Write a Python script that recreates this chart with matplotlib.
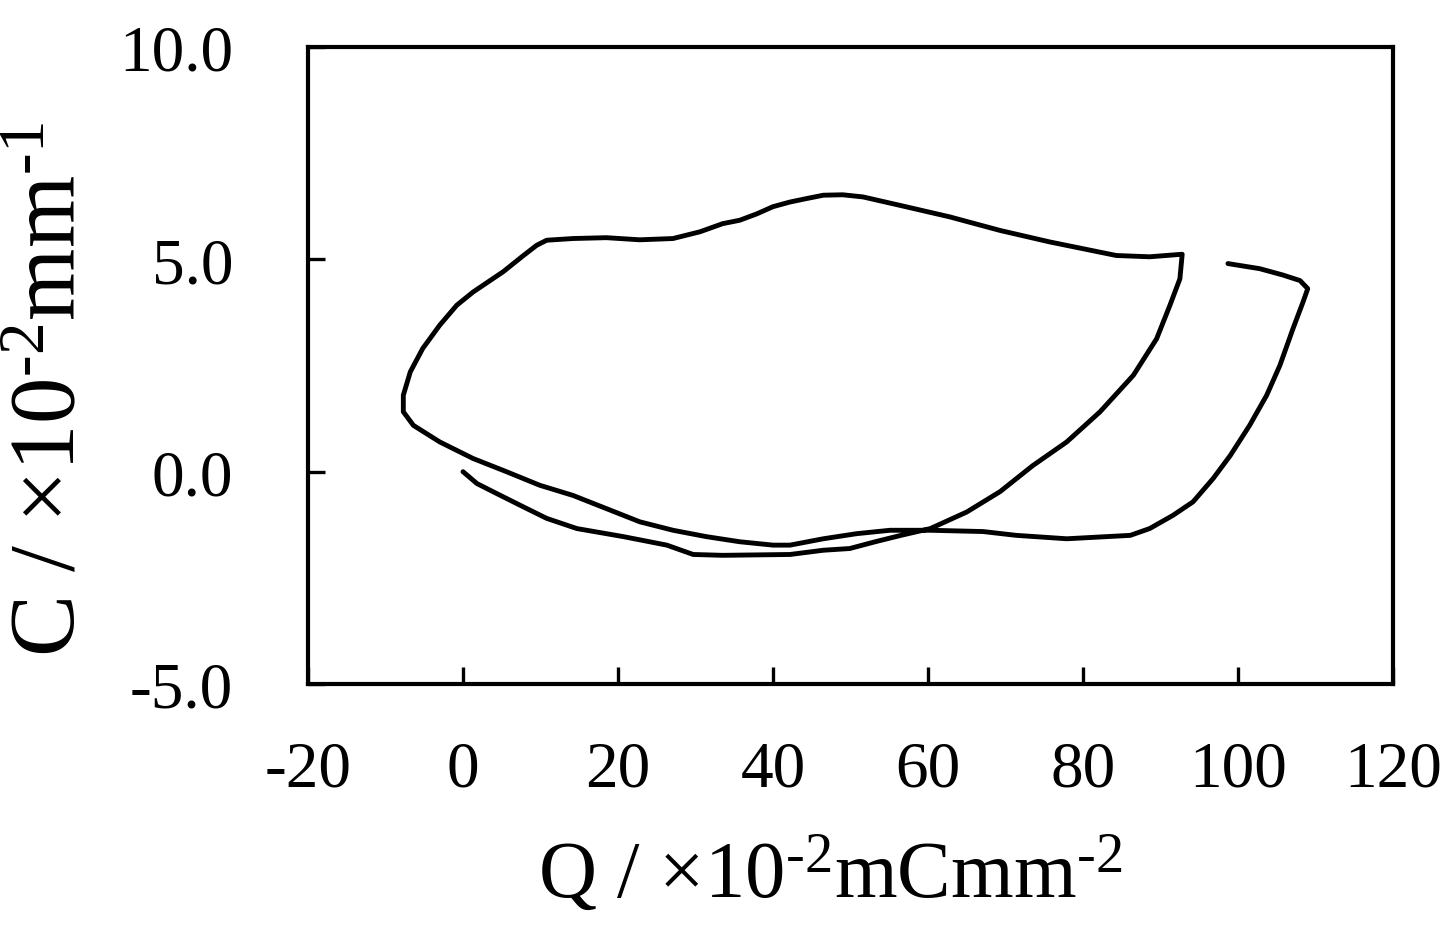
import matplotlib
matplotlib.use("Agg")
import matplotlib.pyplot as plt

plt.rcParams['font.family'] = ['Liberation Serif', 'DejaVu Serif']
plt.rcParams['mathtext.default'] = 'regular'
plt.rcParams['mathtext.fontset'] = 'custom'
plt.rcParams['mathtext.rm'] = 'Liberation Serif'

# Charge density Q (x10^-2 mC mm^-2) and curvature C (x10^-2 mm^-1)
Q = [0.0, 1.8, 4.4, 7.8, 10.8, 14.7, 20.7, 26.3, 29.7, 33.5, 42.2, 46.5, 49.9, 53.2,
     56.5, 60.3, 65.0, 69.3, 73.5, 77.9, 82.2, 86.5, 89.5, 91.2, 92.5, 92.8,
     88.6, 84.3, 80.0, 75.7, 69.3, 62.8, 56.4, 51.6, 49.0, 46.5, 44.3, 42.2, 40.0, 37.9,
     35.7, 33.5, 30.6, 27.1, 22.8, 18.5, 14.2, 10.8, 9.5, 7.8, 5.2, 1.3, -0.8, -3.0,
     -5.2, -6.8, -7.7, -7.7, -6.4, -3.0, 1.3, 5.6, 9.9, 14.2, 18.5, 22.8, 27.1, 31.4,
     35.7, 40.0, 42.2, 46.5, 50.8, 55.1, 60.3, 67.1, 71.4, 77.9, 86.1, 88.6, 91.6,
     94.2, 96.8, 99.0, 101.5, 103.7, 105.4, 107.1, 108.4, 109.0, 108.0, 105.8, 102.8, 98.7]
C = [0.0, -0.28, -0.52, -0.83, -1.10, -1.34, -1.53, -1.73, -1.95, -1.97, -1.95, -1.85, -1.81, -1.65,
     -1.50, -1.34, -0.95, -0.47, 0.14, 0.70, 1.41, 2.27, 3.13, 3.91, 4.54, 5.12,
     5.06, 5.09, 5.25, 5.41, 5.68, 6.00, 6.27, 6.47, 6.52, 6.51, 6.43, 6.35, 6.24, 6.07,
     5.92, 5.84, 5.65, 5.49, 5.46, 5.51, 5.49, 5.45, 5.33, 5.09, 4.71, 4.23, 3.92, 3.45,
     2.90, 2.35, 1.80, 1.41, 1.09, 0.70, 0.31, 0.00, -0.32, -0.56, -0.87, -1.18, -1.38, -1.53,
     -1.65, -1.73, -1.73, -1.58, -1.46, -1.38, -1.38, -1.41, -1.50, -1.58, -1.50, -1.34, -1.03,
     -0.71, -0.16, 0.38, 1.09, 1.80, 2.50, 3.37, 4.00, 4.31, 4.50, 4.63, 4.78, 4.90]

x_ticks = [-20, 0, 20, 40, 60, 80, 100, 120]
x_ticklabels = ['-20', '0', '20', '40', '60', '80', '100', '120']
y_ticks = [-5, 0, 5, 10]
y_ticklabels = ['-5.0', '0.0', '5.0', '10.0']

fig = plt.figure(figsize=(14.42, 9.28), dpi=100)
ax = fig.add_axes([308/1442, 1-685/928, (1393-308)/1442, (685-48)/928])
ax.plot(Q, C, color='black', lw=3.5, solid_joinstyle='round', solid_capstyle='round')

ax.set_xlim(-20, 120)
ax.set_ylim(-5, 10)
ax.set_xticks(x_ticks)
ax.set_xticklabels(x_ticklabels)
ax.set_yticks(y_ticks)
ax.set_yticklabels(y_ticklabels)
ax.tick_params(axis='both', direction='in', length=12, width=2.4, labelsize=47)
ax.tick_params(axis='x', pad=40)
ax.tick_params(axis='y', pad=54)
for s in ax.spines.values():
    s.set_linewidth(3.0)

fig.text(830/1442, 1-875/928, r'Q / ×10$^{\text{-2}}$mCmm$^{\text{-2}}$', fontsize=58,
         ha='center', va='center')
fig.text(52/1442, 1-390/928, r'C / ×10$^{\text{-2}}$mm$^{\text{-1}}$', fontsize=67,
         ha='center', va='center', rotation=90)

fig.savefig('out.png', dpi=100)
